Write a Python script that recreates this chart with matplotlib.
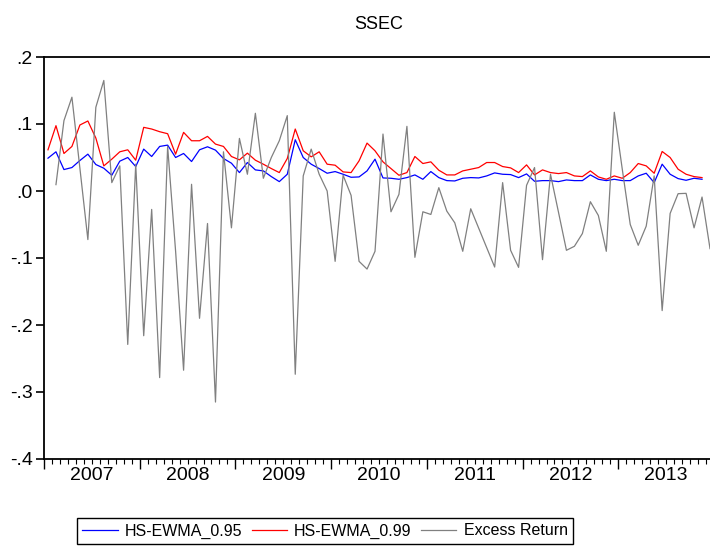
import matplotlib
matplotlib.use("Agg")
import matplotlib.pyplot as plt
from matplotlib.ticker import FixedLocator, FuncFormatter
import numpy as np

plt.rcParams['font.family'] = ['Liberation Sans', 'DejaVu Sans']

# monthly values, 2007M01 .. 2013M12 (x in months from Jan 2007)
years = [2007, 2008, 2009, 2010, 2011, 2012, 2013]

hs_ewma_095 = [0.049, 0.0585, 0.032, 0.035, 0.0455, 0.055, 0.0395, 0.034, 0.0235, 0.0445,
               0.05, 0.0365, 0.0625, 0.0515, 0.0665, 0.0685, 0.05, 0.056, 0.044, 0.0615,
               0.066, 0.061, 0.0485, 0.0415, 0.0275, 0.0425, 0.0315, 0.03, 0.0215, 0.014,
               0.025, 0.0765, 0.05, 0.04, 0.0335, 0.0265, 0.029, 0.025, 0.0205, 0.021,
               0.03, 0.0475, 0.0195, 0.019, 0.0175, 0.02, 0.024, 0.0175, 0.029, 0.02,
               0.0155, 0.015, 0.019, 0.02, 0.0195, 0.0225, 0.027, 0.025, 0.0245, 0.02,
               0.0255, 0.0145, 0.0155, 0.0155, 0.014, 0.0165, 0.0155, 0.0155, 0.024, 0.0175,
               0.0155, 0.0175, 0.0155, 0.0155, 0.0225, 0.0265, 0.0125, 0.04, 0.025, 0.0185,
               0.016, 0.019, 0.0175]

hs_ewma_099 = [0.0615, 0.0975, 0.056, 0.0665, 0.0985, 0.1045, 0.079, 0.0375, 0.0475, 0.0585,
               0.0615, 0.046, 0.095, 0.0925, 0.0885, 0.0855, 0.055, 0.0875, 0.075, 0.075,
               0.0815, 0.07, 0.0665, 0.0515, 0.0465, 0.0565, 0.046, 0.04, 0.0335, 0.0275,
               0.0485, 0.0925, 0.06, 0.051, 0.0585, 0.04, 0.0385, 0.0285, 0.0275, 0.045,
               0.0715, 0.06, 0.0435, 0.0335, 0.0235, 0.0275, 0.0515, 0.041, 0.0435, 0.031,
               0.024, 0.024, 0.03, 0.0325, 0.035, 0.0425, 0.0425, 0.0365, 0.0345, 0.0275,
               0.039, 0.024, 0.0315, 0.0275, 0.026, 0.0275, 0.0225, 0.0215, 0.03, 0.021,
               0.0175, 0.0225, 0.019, 0.0275, 0.041, 0.0375, 0.0265, 0.059, 0.05, 0.0325,
               0.025, 0.0215, 0.02]

excess_return = [0.0095, 0.105, 0.14, 0.034, -0.0725, 0.125, 0.165, 0.0125, 0.0375, -0.229,
                 0.04, -0.216, -0.0275, -0.2785, 0.0665, -0.09, -0.2675, 0.01, -0.19, -0.0485,
                 -0.315, 0.0585, -0.055, 0.0785, 0.025, 0.116, 0.019, 0.05, 0.075, 0.1125,
                 -0.2735, 0.0225, 0.0625, 0.025, 0.0, -0.105, 0.0235, -0.0065, -0.105, -0.1165,
                 -0.09, 0.085, -0.031, -0.005, 0.0965, -0.099, -0.031, -0.035, 0.005, -0.03,
                 -0.0475, -0.09, -0.0265, -0.0555, -0.0845, -0.1135, 0.0125, -0.0885, -0.114, 0.0085,
                 0.035, -0.1025, 0.025, -0.0315, -0.0885, -0.0825, -0.0635, -0.016, -0.0365, -0.09,
                 0.1175, 0.0325, -0.05, -0.081, -0.0525, 0.0225, -0.1785, -0.0335, -0.004, -0.0035,
                 -0.055, -0.009, -0.086]

x_ewma = np.arange(len(hs_ewma_095)) + 0.5
x_ret = np.arange(len(excess_return)) + 1.5


def ytick_fmt(v, pos):
    s = f"{round(v, 1) + 0.0:.1f}"
    if s == "-0.0":
        s = "0.0"
    return s.replace("0.", ".")


fig = plt.figure(figsize=(7.1, 5.52), dpi=100)
ax = fig.add_axes([44 / 710, 93 / 552, 670 / 710, 402 / 552])

ax.plot(x_ewma, hs_ewma_095, color='#0000ff', lw=0.9, label='HS-EWMA_0.95')
ax.plot(x_ewma, hs_ewma_099, color='#ff0000', lw=0.9, label='HS-EWMA_0.99')
ax.plot(x_ret, excess_return, color='#808080', lw=0.9, label='Excess Return')

ax.set_xlim(0, 84)
ax.set_ylim(-0.4, 0.2)
ax.set_yticks([-0.4, -0.3, -0.2, -0.1, 0.0, 0.1, 0.2])
ax.yaxis.set_major_formatter(FuncFormatter(ytick_fmt))
ax.tick_params(axis='y', direction='out', length=6, width=1.2, labelsize=14, pad=2)

ax.xaxis.set_major_locator(FixedLocator(np.arange(0, 85, 12)))
ax.xaxis.set_minor_locator(FixedLocator(np.arange(0, 85, 1)))
ax.xaxis.set_major_formatter(FuncFormatter(lambda v, p: ""))
ax.tick_params(axis='x', which='major', direction='out', length=7, width=1.0)
ax.tick_params(axis='x', which='minor', direction='out', length=3.5, width=0.8)

sec = ax.secondary_xaxis('bottom')
sec.set_xticks([12 * i + 6 for i in range(len(years))], [str(y) for y in years])
sec.tick_params(length=0, labelsize=14, pad=6)
sec.spines['bottom'].set_visible(False)

for s in ['left', 'bottom', 'top']:
    ax.spines[s].set_linewidth(1.3)
ax.spines['right'].set_visible(False)

ax.set_title('SSEC', fontsize=13, pad=20)

fig.legend(loc='center', bbox_to_anchor=(325 / 710, 1 - 531 / 552), ncol=3,
           fancybox=False, edgecolor='black', framealpha=1, fontsize=11.5,
           handlelength=2.2, handletextpad=0.45, columnspacing=0.6,
           borderpad=0.35)

fig.savefig('out.png', dpi=100)
